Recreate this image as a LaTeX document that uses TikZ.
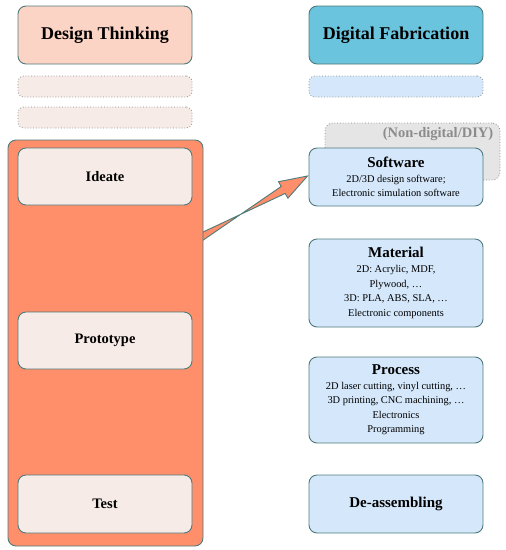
\documentclass[tikz,border=0pt]{standalone}
\usepackage{fontspec}
\setmainfont{Liberation Serif}
\usetikzlibrary{calc}
\definecolor{edge}{RGB}{78,122,124}
\definecolor{dtfill}{RGB}{252,212,197}
\definecolor{dffill}{RGB}{106,196,221}
\definecolor{paleL}{RGB}{246,235,230}
\definecolor{paleR}{RGB}{213,232,251}
\definecolor{orangeF}{RGB}{255,143,106}
\definecolor{greyF}{RGB}{229,229,229}
\definecolor{greyT}{RGB}{140,140,140}
\newcommand\fabhead{\fontsize{15}{15}\selectfont\bfseries}
\tikzset{
  box/.style={draw=edge, line width=0.9pt, rounded corners=8pt, align=center, inner sep=2pt},
  title/.style={box, minimum width=174pt, minimum height=58pt, font=\fontsize{18}{20}\selectfont\bfseries},
  dotbox/.style={draw=black!45, dotted, line width=0.8pt, rounded corners=6pt, minimum width=174pt, minimum height=21pt},
  stage/.style={box, fill=paleL, minimum width=174pt, minimum height=57pt, font=\fontsize{14.5}{16}\selectfont\bfseries},
  fab/.style={box, fill=paleR, minimum width=174pt, font=\fontsize{10.4}{14.6}\selectfont}
}
\begin{document}
\begin{tikzpicture}[x=1pt,y=-1pt]
\useasboundingbox (0,0) rectangle (506,550);
% left column
\node[title, fill=dtfill] (dt) at (105,35) {Design Thinking};
\node[dotbox, fill=paleL] (dl1) at (105,86.5) {};
\node[dotbox, fill=paleL] (dl2) at (105,117.5) {};
% right column
\node[title, fill=dffill] (df) at (396,35) {Digital Fabrication};
\node[dotbox, fill=paleR] (dr1) at (396,86.5) {};
\node[dotbox, fill=greyF, minimum width=175pt, minimum height=57pt, rounded corners=8pt] (diy) at (412.5,151.5) {};
\node[anchor=north east, text=greyT, font=\fontsize{14.5}{16}\selectfont\bfseries, inner sep=0pt] (diyt) at ($(diy.north east)+(-7,5)$) {(Non-digital/DIY)};
% arrow from design thinking block to software
\coordinate (as) at (198,238.8);
\coordinate (at) at (307.5,176);
\coordinate (ab) at ($(at)!28pt!(as)$);
\fill[orangeF, draw=edge, line width=0.9pt, line join=miter]
  ($(as)!4pt!90:(at)$) -- ($(ab)!4pt!-90:(at)$) -- ($(ab)!9.5pt!-90:(at)$) -- (at)
  -- ($(ab)!9.5pt!90:(at)$) -- ($(ab)!4pt!90:(at)$) -- ($(as)!4pt!-90:(at)$) -- cycle;
% big orange block
\node[box, fill=orangeF, minimum width=195pt, minimum height=406pt] (dtblock) at (105.5,343) {};
\node[stage] (ideate) at (105,176.5) {Ideate};
\node[stage] (proto) at (105,340.5) {Prototype};
\node[stage, minimum height=58pt] (test) at (105,504) {Test};
% fabrication boxes
\node[fab, minimum height=58pt] (soft) at (396,177) {{\fabhead Software}\\2D/3D design software;\\Electronic simulation software};
\node[fab, minimum height=88pt] (mat) at (396,283) {{\fabhead Material}\\2D: Acrylic, MDF,\\Plywood, \dots\\3D: PLA, ABS, SLA, \dots\\Electronic components};
\node[fab, minimum height=86pt] (proc) at (396,400) {{\fabhead Process}\\2D laser cutting, vinyl cutting, \dots\\3D printing, CNC machining, \dots\\Electronics\\Programming};
\node[fab, minimum height=58pt, font=\fontsize{15}{16}\selectfont\bfseries] (deas) at (396,504) {De-assembling};
\end{tikzpicture}
\end{document}
